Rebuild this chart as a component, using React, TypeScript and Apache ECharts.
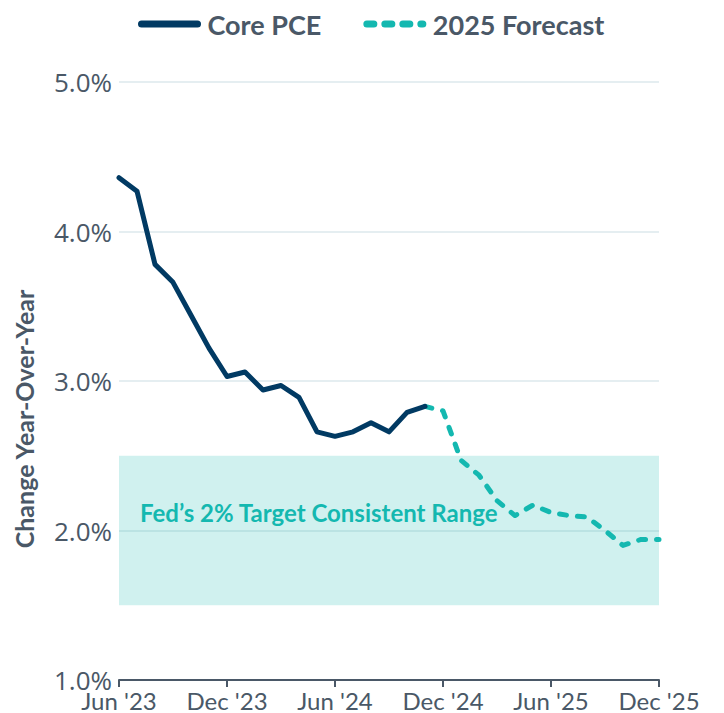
import React, { useEffect, useRef } from "react";
import * as echarts from "echarts";

const months: string[] = [
  "Jun '23", "Jul '23", "Aug '23", "Sep '23", "Oct '23", "Nov '23", "Dec '23",
  "Jan '24", "Feb '24", "Mar '24", "Apr '24", "May '24", "Jun '24", "Jul '24",
  "Aug '24", "Sep '24", "Oct '24", "Nov '24", "Dec '24", "Jan '25", "Feb '25",
  "Mar '25", "Apr '25", "May '25", "Jun '25", "Jul '25", "Aug '25", "Sep '25",
  "Oct '25", "Nov '25", "Dec '25",
];

const corePCE: number[] = [
  4.36, 4.27, 3.78, 3.66, 3.44, 3.22, 3.03, 3.06, 2.94, 2.97, 2.89, 2.66,
  2.63, 2.66, 2.72, 2.66, 2.79, 2.83,
];

const forecastStart = "Nov '24";
const forecast2025: number[] = [
  2.83, 2.8, 2.47, 2.37, 2.2, 2.1, 2.17, 2.12, 2.1, 2.09, 2.0, 1.9, 1.94, 1.94,
];

const targetRange: [number, number] = [1.5, 2.5];
const targetLabel = "Fed\u2019s 2% Target Consistent Range";
const yTicks = { min: 1, max: 5, interval: 1 };

const NAVY = "#013a63";
const TEAL = "#14b8b0";
const TEXT = "#4a5867";

export default function App() {
  const ref = useRef<HTMLDivElement>(null);
  useEffect(() => {
    if (!ref.current) return;
    const chart = echarts.init(ref.current, undefined, { renderer: "svg" });
    const startIdx = months.indexOf(forecastStart);
    const coreData = months.map((_, i) => (i < corePCE.length ? corePCE[i] : null));
    const fcData = months.map((_, i) =>
      i >= startIdx && i - startIdx < forecast2025.length ? forecast2025[i - startIdx] : null
    );
    chart.setOption({
      animation: false,
      grid: { left: 111, right: 65, top: 74, bottom: 33, containLabel: false },
      legend: {
        top: 2,
        left: 130,
        padding: 0,
        itemWidth: 56,
        itemHeight: 28,
        itemGap: 42,
        itemStyle: { opacity: 0 },
        lineStyle: { width: 7, cap: "round" },
        textStyle: {
          color: TEXT,
          fontFamily: "Lato",
          fontWeight: "bold",
          fontSize: 27,
          lineHeight: 28,
          padding: [0, 0, 0, 5],
        },
        data: ["Core PCE", "2025 Forecast"],
      },
      graphic: [
        {
          type: "text",
          x: 16,
          y: 411,
          rotation: Math.PI / 2,
          style: {
            text: "Change Year-Over-Year",
            fill: TEXT,
            font: "bold 25px Lato",
            align: "center",
            verticalAlign: "middle",
          },
        },
      ],
      xAxis: {
        type: "category",
        data: months,
        boundaryGap: false,
        axisLine: { lineStyle: { color: TEXT, width: 2 } },
        axisTick: { interval: 5, length: 7, lineStyle: { color: TEXT, width: 2 } },
        axisLabel: {
          interval: 5,
          color: TEXT,
          fontFamily: "Lato",
          fontSize: 24,
          lineHeight: 18,
          margin: 11,
        },
        splitLine: { show: false },
      },
      yAxis: {
        type: "value",
        min: yTicks.min,
        max: yTicks.max,
        interval: yTicks.interval,
        axisLine: { show: false },
        axisTick: { show: false },
        axisLabel: {
          color: TEXT,
          fontFamily: "Open Sans",
          fontSize: 26,
          lineHeight: 18,
          margin: 7,
          formatter: (v: number) => v.toFixed(1) + "%",
        },
        splitLine: { lineStyle: { color: "#dde9ed", width: 1.5 } },
      },
      series: [
        {
          name: "Core PCE",
          type: "line",
          data: coreData,
          symbol: "none",
          z: 3,
          lineStyle: { color: NAVY, width: 5, cap: "round", join: "round" },
          itemStyle: { color: NAVY },
          markArea: {
            silent: true,
            itemStyle: { color: "rgba(20,184,176,0.2)" },
            label: {
              show: true,
              position: "insideLeft",
              distance: 21,
              offset: [0, -18],
              color: TEAL,
              fontFamily: "Lato",
              fontWeight: "bold",
              fontSize: 24,
              formatter: targetLabel,
            },
            data: [[{ yAxis: targetRange[0] }, { yAxis: targetRange[1] }]],
          },
        },
        {
          name: "2025 Forecast",
          type: "line",
          data: fcData,
          symbol: "none",
          z: 2,
          lineStyle: { color: TEAL, width: 5, type: [7, 11], cap: "round", join: "round" },
          itemStyle: { color: TEAL },
        },
      ],
    });
    return () => chart.dispose();
  }, []);
  return <div ref={ref} style={{ width: 716, height: 705 }} />;
}
